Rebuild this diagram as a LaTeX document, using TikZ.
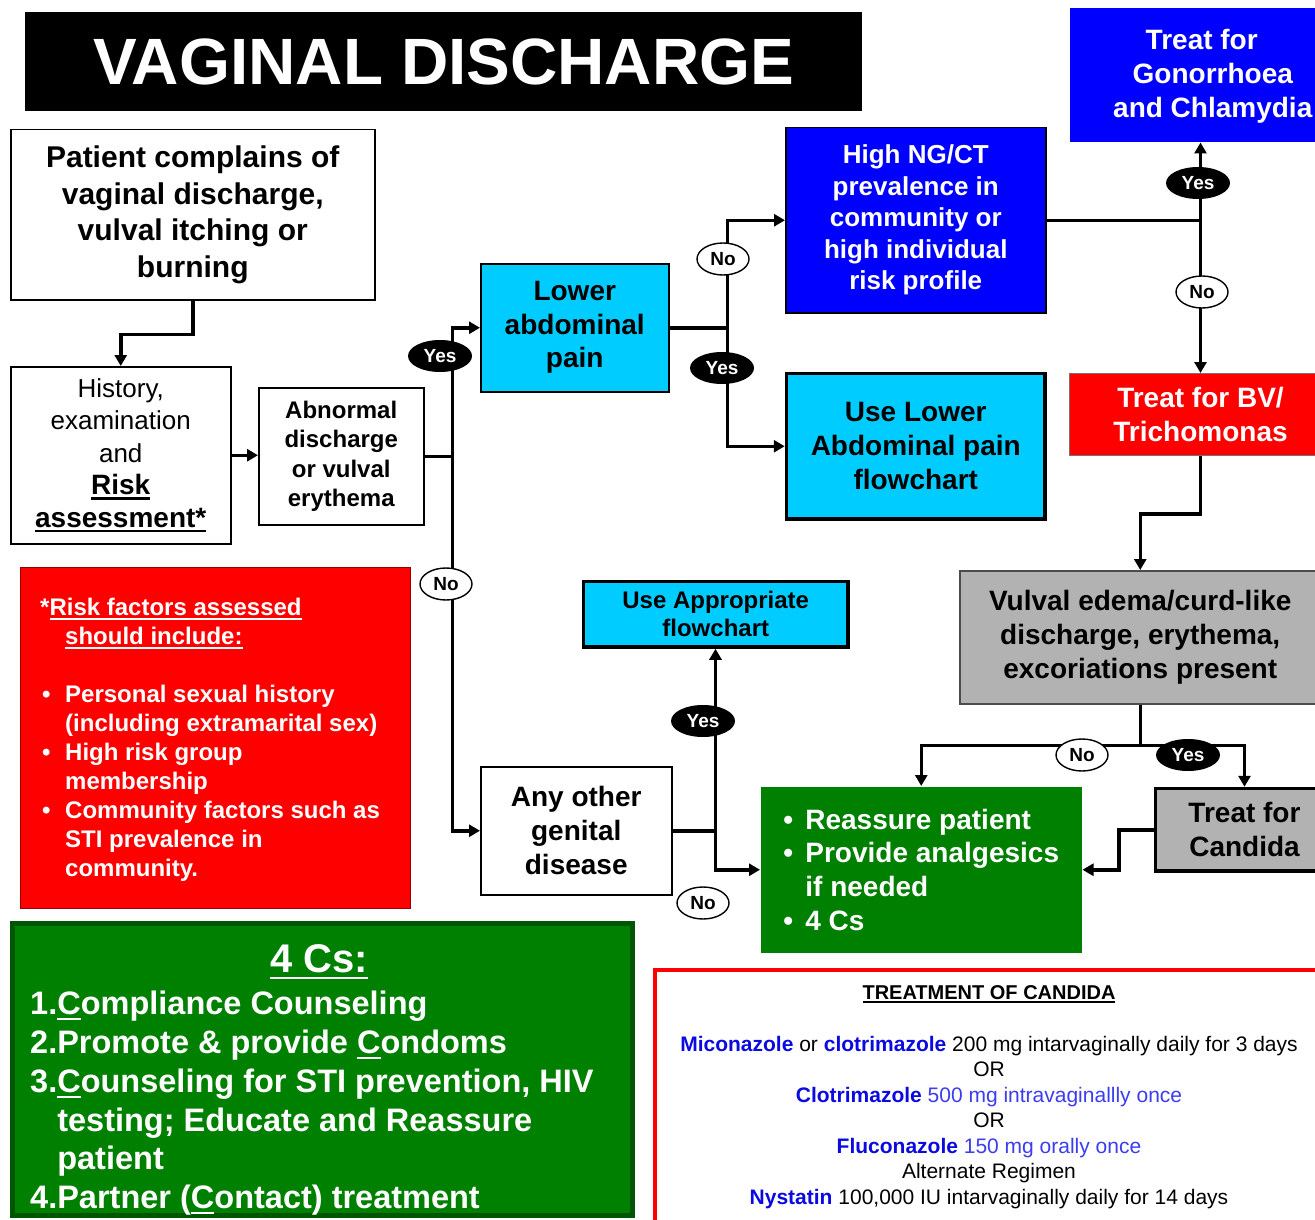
\documentclass[tikz,border=0pt]{standalone}
\usepackage{fontspec}
\setmainfont{Liberation Sans}
\usetikzlibrary{arrows.meta,shapes.geometric}

\newcommand{\fsz}[2]{\fontsize{#1}{#2}\selectfont}
% underline with a chosen rule thickness
\newsavebox{\undlbox}
\newcommand{\undl}[2][2.2pt]{\leavevmode\sbox{\undlbox}{#2}%
  \rlap{\rule[\dimexpr-0.1em-#1\relax]{\wd\undlbox}{#1}}\usebox{\undlbox}}

\definecolor{cyanbox}{RGB}{0,204,255}
\definecolor{bluebox}{RGB}{0,0,255}
\definecolor{redbox}{RGB}{255,0,0}
\definecolor{greenbox}{RGB}{0,128,0}
\definecolor{darkgreen}{RGB}{0,85,0}
\definecolor{graybox}{RGB}{178,178,178}
\definecolor{riskborder}{RGB}{150,0,0}
\definecolor{drug}{RGB}{10,10,225}
\definecolor{dose}{RGB}{60,60,240}

\tikzset{
  box/.style={rectangle, anchor=north west, inner sep=0pt, align=center,
    draw=black, line width=1.5pt},
  thickbox/.style={box, line width=3.5pt},
  wire/.style={line width=3.5pt},
  conn/.style={line width=3.5pt, -{Triangle[length=11pt,width=12pt]}},
  yes/.style={ellipse, fill=black, text=white, inner sep=0pt,
    minimum width=64pt, minimum height=32pt, font=\bfseries\fsz{19}{19}},
  no/.style={ellipse, draw=black, line width=1.4pt, fill=white, inner sep=0pt,
    minimum width=52pt, minimum height=32pt, font=\bfseries\fsz{19}{19}},
}

\begin{document}
\begin{tikzpicture}[x=1pt,y=-1pt]
\path[use as bounding box] (0,0) rectangle (1315,1220);
\fill[white] (0,0) rectangle (1315,1220);
\clip (0,0) rectangle (1315,1220);

% title banner
\node[fill=black, anchor=north west, inner sep=0pt, minimum width=837pt,
  minimum height=99pt, text=white, font=\bfseries\fsz{65.5}{65.5}] (title)
  at (25,12) {VAGINAL DISCHARGE};

% flow boxes
\node[box, minimum width=364pt, minimum height=170pt,
  font=\bfseries\fsz{30}{36.5}] (patient) at (10,129)
  {Patient complains of\\vaginal discharge,\\vulval itching or\\burning\rule[-3pt]{0pt}{0pt}};

\node[box, minimum width=220pt, minimum height=177pt,
  font=\fsz{26}{32.5}] (history) at (10,366)
  {History,\\examination\\and\\{\bfseries\fsz{28}{32.5}\undl{Risk}}\\{\bfseries\fsz{28}{32.5}\undl{assessment*}}};

\node[box, minimum width=165pt, minimum height=137pt,
  font=\bfseries\fsz{24}{29.5}] (abnormal) at (258,387)
  {Abnormal\\discharge\\or vulval\\erythema};

\node[box, fill=cyanbox, minimum width=188pt, minimum height=128pt,
  font=\bfseries\fsz{28}{33.5}] (lowabd) at (480,263)
  {Lower\\abdominal\\pain};

\node[box, fill=bluebox, text=white, minimum width=260pt, minimum height=185pt,
  font=\bfseries\fsz{26}{31.5}] (highng) at (785,127)
  {High NG/CT\\prevalence in\\community or\\high individual\\risk profile};

\node[thickbox, fill=cyanbox, minimum width=258.5pt, minimum height=145.5pt,
  font=\bfseries\fsz{28}{34}] (uselower) at (784.75,371.75)
  {Use Lower\\Abdominal pain\\flowchart};

\node[box, draw=none, fill=bluebox, text=white, minimum width=286pt,
  minimum height=134pt, font=\bfseries\fsz{28}{34}] (gon) at (1069,7)
  {\rule{0pt}{24pt}Treat for\rule{22pt}{0pt}\\Gonorrhoea\\and Chlamydia};

\node[box, draw=black!55, line width=1pt, fill=redbox, text=white,
  minimum width=262pt, minimum height=82pt, font=\bfseries\fsz{28}{34}] (bv)
  at (1069,373) {Treat for BV/\\Trichomonas};

\node[box, draw=black!70, fill=graybox, minimum width=361pt, minimum height=133pt,
  font=\bfseries\fsz{28}{34}] (vulval) at (959,570)
  {Vulval edema/curd-like\\discharge, erythema,\\excoriations present};

\node[thickbox, fill=graybox, minimum width=178pt, minimum height=82.5pt,
  font=\bfseries\fsz{28}{34}] (candida) at (1153.75,786.75)
  {Treat for\\Candida};

\node[box, draw=none, fill=greenbox, text=white, minimum width=321pt,
  minimum height=166pt, align=left, font=\bfseries\fsz{28}{33.7}] (reassure)
  at (760,786)
  {\makebox[22pt][l]{\textbullet}Reassure patient\\
   \makebox[22pt][l]{\textbullet}Provide analgesics\\
   \hspace*{22pt}if needed\\
   \makebox[22pt][l]{\textbullet}4 Cs};

\node[thickbox, fill=cyanbox, minimum width=264.5pt, minimum height=65.5pt,
  font=\bfseries\fsz{24}{28}] (useapp) at (581.75,579.75)
  {Use Appropriate\\flowchart};

\node[box, minimum width=191pt, minimum height=128pt,
  font=\bfseries\fsz{28}{34}] (anyother) at (480,766)
  {Any other\\genital\\disease};

% risk factor panel
\node[box, draw=riskborder, line width=1.2pt, fill=redbox,
  minimum width=390pt, minimum height=341pt] (riskbox) at (20,567) {};
\node[anchor=north west, inner sep=0pt, align=left, text=white,
  font=\bfseries\fsz{24}{29}] (risktext) at (40,598)
  {*\undl[1.8pt]{Risk factors assessed}\\
   \hspace*{25pt}\undl[1.8pt]{should include:}\\[29pt]
   \hspace*{2pt}\makebox[23pt][l]{\textbullet}Personal sexual history\\
   \hspace*{25pt}(including extramarital sex)\\
   \hspace*{2pt}\makebox[23pt][l]{\textbullet}High risk group\\
   \hspace*{25pt}membership\\
   \hspace*{2pt}\makebox[23pt][l]{\textbullet}Community factors such as\\
   \hspace*{25pt}STI prevalence in\\
   \hspace*{25pt}community.};

% 4 Cs panel
\node[box, draw=darkgreen, line width=5pt, fill=greenbox,
  minimum width=620pt, minimum height=292pt] (fourcbox) at (9.5,920.5) {};
\node[text=white, inner sep=0pt, font=\bfseries\fsz{40}{40}] (fourchead)
  at (319,962) {\undl[2.8pt]{4 Cs:}};
\node[anchor=north west, inner sep=0pt, align=left, text=white,
  font=\bfseries\fsz{32.5}{38.8}] (fourclist) at (30,991)
  {1.\undl{C}ompliance Counseling\\
   2.Promote \& provide \undl{C}ondoms\\
   3.\undl{C}ounseling for STI prevention, HIV\\
   \phantom{3.}testing; Educate and Reassure\\
   \phantom{3.}patient\\
   4.Partner (\undl{C}ontact) treatment};

% candida treatment panel
\node[box, draw=redbox, line width=4pt, fill=white,
  minimum width=677pt, minimum height=280pt] (treatbox) at (653,968) {};
\node[anchor=north, inner sep=0pt, align=center, font=\fsz{21}{25.5}]
  (treattext) at (989,985)
  {{\bfseries\fsz{20}{25.5}\undl[1.4pt]{TREATMENT OF CANDIDA}}\\[26.5pt]
   \textcolor{drug}{\bfseries Miconazole} or \textcolor{drug}{\bfseries clotrimazole} 200 mg intarvaginally daily for 3 days\\
   OR\\
   \textcolor{drug}{\bfseries Clotrimazole} \textcolor{dose}{500 mg intravaginallly once}\\
   OR\\
   \textcolor{drug}{\bfseries Fluconazole} \textcolor{dose}{150 mg orally once}\\
   Alternate Regimen\\
   \textcolor{drug}{\bfseries Nystatin} 100,000 IU intarvaginally daily for 14 days};

% connectors
\draw[conn] (patient.south) -- ++(0,34) -| (history.north);
\draw[conn] (history.east) -- (history.east -| abnormal.west);
\draw[wire] (abnormal.east) -- ++(28,0) coordinate (j1);
\draw[conn] (j1) |- (lowabd.west);
\draw[conn] (j1) |- (anyother.west);
\draw[wire] (lowabd.east) -- ++(58,0) coordinate (j2);
\draw[conn] (j2) |- (highng.west);
\draw[conn] (j2) |- (uselower.west);
\coordinate (j3) at (highng.east -| bv.north);
\draw[wire] (highng.east) -- (j3);
\draw[conn] (j3) -- (j3 |- gon.south);
\draw[conn] (j3) -- (bv.north);
\draw[conn] (bv.south) -- ++(0,58) -| (vulval.north);
\draw[wire] (vulval.south) -- ++(0,41) coordinate (j4);
\draw[conn] (j4) -| (reassure.north);
\draw[conn] (j4) -| (candida.north);
\draw[conn] (candida.west) -- ++(-35,0) |- (reassure.east);
\draw[wire] (anyother.east) -- ++(43,0) coordinate (j5);
\draw[conn] (j5) -- (j5 |- useapp.south);
\draw[conn] (j5) |- (reassure.west);

% decision labels
\node[yes] (y1) at (440,356) {Yes};
\node[no]  (n1) at (446,584) {No};
\node[no]  (n2) at (723,259) {No};
\node[yes] (y2) at (722,368) {Yes};
\node[yes] (y3) at (1198,183) {Yes};
\node[no]  (n3) at (1202,292) {No};
\node[no]  (n4) at (1082,755) {No};
\node[yes] (y4) at (1188,755) {Yes};
\node[yes] (y5) at (703,721) {Yes};
\node[no]  (n5) at (703,903) {No};
\end{tikzpicture}
\end{document}
